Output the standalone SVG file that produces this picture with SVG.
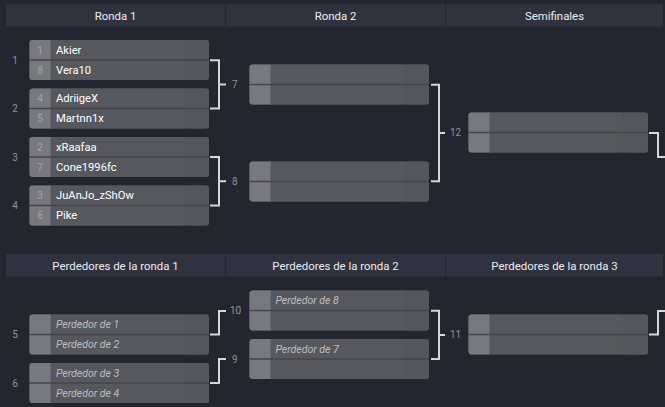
<svg xmlns="http://www.w3.org/2000/svg" width="665" height="407" viewBox="0 0 665 407">
<style>
.hdr{fill:#30333f}
.hdrt{font-family:Roboto,"Liberation Sans",sans-serif;font-size:11.4px;fill:#ececef;text-anchor:middle;dominant-baseline:central}
.box{fill:#57585d}
.seedc{fill:#78797e}
.score{fill:#55565b}
.div{stroke:#45464b;stroke-width:1.5}
.seed{font-family:Roboto,"Liberation Sans",sans-serif;font-size:10px;fill:#a3a4a8;text-anchor:middle;dominant-baseline:central}
.name{font-family:Roboto,"Liberation Sans",sans-serif;font-size:11.2px;fill:#ffffff;dominant-baseline:central}
.ph{font-family:Roboto,"Liberation Sans",sans-serif;font-size:10.5px;font-style:italic;fill:#bdbdc1;dominant-baseline:central}
.lbl{font-family:Roboto,"Liberation Sans",sans-serif;font-size:10px;fill:#8f9198;dominant-baseline:central}
.lblm{font-family:Roboto,"Liberation Sans",sans-serif;font-size:10px;fill:#8f9198;text-anchor:middle;dominant-baseline:central}
.con{fill:none;stroke:#d6d6d8;stroke-width:2}
</style>
<defs>
<g id="m">
<rect class="box" x="0" y="0" width="179.5" height="40" rx="3"/>
<rect class="score" x="154" y="0" width="25.5" height="40" rx="3"/>
<rect class="box" x="20" y="0" width="134" height="40"/>
<path class="seedc" d="M3 0H21V40H3A3 3 0 0 1 0 37V3A3 3 0 0 1 3 0Z"/>
<line class="div" x1="0" y1="20" x2="179.5" y2="20"/>
</g>
</defs>
<rect width="665" height="407" fill="#24262f"/>
<g id="headers">
<rect class="hdr" x="6" y="4" width="219" height="22.5"/>
<rect class="hdr" x="226" y="4" width="219" height="22.5"/>
<rect class="hdr" x="446" y="4" width="217" height="22.5"/>
<text class="hdrt" x="115.5" y="15.5">Ronda 1</text>
<text class="hdrt" x="335.5" y="15.5">Ronda 2</text>
<text class="hdrt" x="554.5" y="15.5">Semifinales</text>
<rect class="hdr" x="6" y="254" width="219" height="22.5"/>
<rect class="hdr" x="226" y="254" width="219" height="22.5"/>
<rect class="hdr" x="446" y="254" width="217" height="22.5"/>
<text class="hdrt" x="115.5" y="265.5">Perdedores de la ronda 1</text>
<text class="hdrt" x="335.5" y="265.5">Perdedores de la ronda 2</text>
<text class="hdrt" x="554.5" y="265.5">Perdedores de la ronda 3</text>
</g>
<g id="connectors">
<path class="con" d="M210 60.3H219V108.5H210M219 84.4H226"/>
<path class="con" d="M210 157H219V205.5H210M219 181.2H226"/>
<path class="con" d="M431 84.7H439V181.3H431M439 133H445"/>
<path class="con" d="M649 133H658V157H665"/>
<path class="con" d="M210 334.5H219V311H226"/>
<path class="con" d="M210 383H219V359H226"/>
<path class="con" d="M431 310.7H439V359H431M439 335H445"/>
<path class="con" d="M649 334.5H658V311H665"/>
</g>
<g id="match1">
<use href="#m" x="29.5" y="40"/>
<text class="lblm" x="15" y="60">1</text>
<text class="seed" x="40" y="50">1</text><text class="name" x="56" y="50">Akier</text>
<text class="seed" x="40" y="70">8</text><text class="name" x="56" y="70">Vera10</text>
</g>
<g id="match2">
<use href="#m" x="29.5" y="88.5"/>
<text class="lblm" x="15" y="108.5">2</text>
<text class="seed" x="40" y="98.5">4</text><text class="name" x="56" y="98.5">AdriigeX</text>
<text class="seed" x="40" y="118.5">5</text><text class="name" x="56" y="118.5">Martnn1x</text>
</g>
<g id="match3">
<use href="#m" x="29.5" y="137"/>
<text class="lblm" x="15" y="157">3</text>
<text class="seed" x="40" y="147">2</text><text class="name" x="56" y="147">xRaafaa</text>
<text class="seed" x="40" y="167">7</text><text class="name" x="56" y="167">Cone1996fc</text>
</g>
<g id="match4">
<use href="#m" x="29.5" y="185.5"/>
<text class="lblm" x="15" y="205.5">4</text>
<text class="seed" x="40" y="195.5">3</text><text class="name" x="56" y="195.5">JuAnJo_zShOw</text>
<text class="seed" x="40" y="215.5">6</text><text class="name" x="56" y="215.5">Pike</text>
</g>
<g id="match7">
<use href="#m" x="249.5" y="64.5"/>
<text class="lbl" x="232" y="84.5">7</text>
</g>
<g id="match8">
<use href="#m" x="249.5" y="161.5"/>
<text class="lbl" x="232" y="181.5">8</text>
</g>
<g id="match12">
<use href="#m" x="468.5" y="112.5"/>
<text class="lbl" x="450" y="132.5">12</text>
</g>
<g id="match5">
<use href="#m" x="29.5" y="314.5"/>
<text class="lblm" x="15" y="334.5">5</text>
<text class="ph" x="56" y="324.5">Perdedor de 1</text>
<text class="ph" x="56" y="344.5">Perdedor de 2</text>
</g>
<g id="match6">
<use href="#m" x="29.5" y="363"/>
<text class="lblm" x="15" y="383">6</text>
<text class="ph" x="56" y="373">Perdedor de 3</text>
<text class="ph" x="56" y="393">Perdedor de 4</text>
</g>
<g id="match10">
<use href="#m" x="249.5" y="290.5"/>
<text class="lbl" x="230" y="310.5">10</text>
<text class="ph" x="275.5" y="300.5">Perdedor de 8</text>
</g>
<g id="match9">
<use href="#m" x="249.5" y="339"/>
<text class="lbl" x="232" y="359">9</text>
<text class="ph" x="275.5" y="349">Perdedor de 7</text>
</g>
<g id="match11">
<use href="#m" x="468.5" y="314.5"/>
<text class="lbl" x="450" y="334.5">11</text>
</g>
</svg>
